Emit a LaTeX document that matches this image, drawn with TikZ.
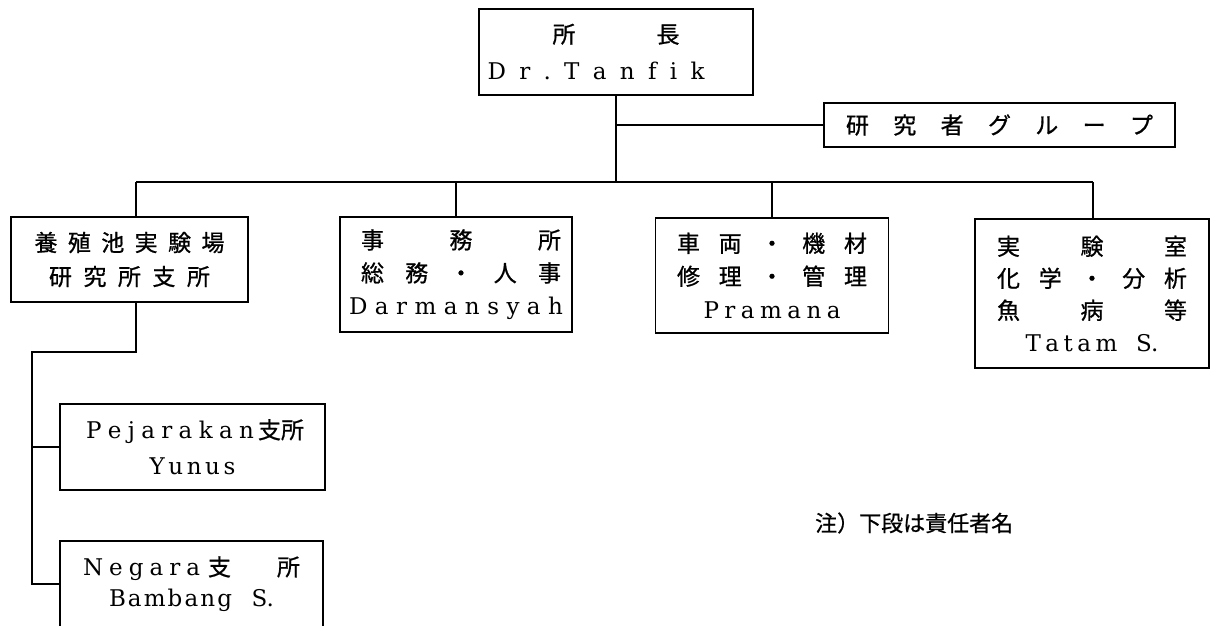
\documentclass[tikz,border=0pt]{standalone}
\usepackage{fontspec}
\setmainfont{DejaVu Serif}
\newfontfamily\jpfam[FakeBold=0.8]{Noto Sans CJK JP}
\newcommand\jp{\jpfam\fontsize{23}{33}\selectfont}
\newcommand\lat{\rmfamily\fontsize{23}{33}\selectfont}
\makeatletter
\let\spr@stop\relax
\def\spr@stopdef{\spr@stop}
\def\spr@A#1{#1\spr@B}
\def\spr@B#1{\def\spr@tmp{#1}\ifx\spr@tmp\spr@stopdef\else\hfil#1\expandafter\spr@B\fi}
\newcommand\spr[2]{\makebox[#1pt][s]{\spr@A#2\spr@stop}}
\makeatother
\tikzset{
  box/.style={draw, line width=1.6pt, rectangle, inner sep=0pt, align=center,
    font=\fontsize{23}{33}\selectfont},
  conn/.style={line width=1.5pt},
}
\begin{document}
\begin{tikzpicture}[x=1pt,y=-1pt]
\useasboundingbox (0,0) rectangle (1210,625);
\clip (0,0) rectangle (1210,625);
% top
\node[box, minimum width=274pt, minimum height=86pt, font=\fontsize{23}{37}\selectfont] (top) at (616,52)
  {{\jp\spr{127}{所長}}\\ \hspace*{-40pt}{\lat\spr{217}{Dr.Tanfik}}};
\node[box, minimum width=351pt, minimum height=44pt] (grp) at (999.5,125)
  {{\jp\spr{307}{研究者グループ}}};
% second level
\node[box, minimum width=237pt, minimum height=85pt, font=\fontsize{23}{34}\selectfont] (b1) at (129.5,259.5)
  {{\jp\spr{190}{養殖池実験場}}\\ {\jp\spr{161}{研究所支所}}};
\node[box, minimum width=232pt, minimum height=115pt] (b2) at (456,274.5)
  {\hspace*{10pt}{\jp\spr{200}{事務所}}\\ \hspace*{10pt}{\jp\spr{200}{総務・人事}}\\ {\lat\spr{214}{Darmansyah}}};
\node[box, minimum width=233pt, minimum height=115pt] (b3) at (772,275.5)
  {{\jp\spr{190}{車両・機材}}\\ {\jp\spr{190}{修理・管理}}\\ {\lat\spr{137}{Pramana}}};
\node[box, minimum width=234pt, minimum height=149pt, font=\fontsize{23}{32}\selectfont] (b4) at (1092,293.5)
  {{\jp\spr{190}{実験室}}\\ {\jp\spr{190}{化学・分析}}\\ {\jp\spr{190}{魚病等}}\\ {\lat\makebox[133pt][s]{\spr{92}{Tatam}\hfil S.}}};
% branch offices
\node[box, minimum width=265pt, minimum height=86pt, font=\fontsize{23}{36}\selectfont] (pej) at (192.5,447)
  {{\lat\makebox[213pt][s]{\spr{168}{Pejarakan}\hspace{4pt}{\jp 支所}}}\\ {\lat\spr{86}{Yunus}}};
\node[box, minimum width=263pt, minimum height=86pt, font=\fontsize{23}{31}\selectfont] (neg) at (191.5,584)
  {{\lat\makebox[217pt][s]{\spr{117}{Negara}\hspace{8pt}{\jp 支}\hfil{\jp 所}}}\\ {\lat\makebox[165pt][s]{\spr{123}{Bambang}\hfil S.}}};
% note
\node[anchor=west, inner sep=0pt, font=\jpfam\fontsize{22}{26}\selectfont] (note) at (815,523) {注）下段は責任者名};
% connectors
\coordinate (busL) at (136,182);
\coordinate (busR) at (1093,182);
\coordinate (k1) at (136,352);
\coordinate (k2) at (32,352);
\draw[conn] (top.south) -- (top.south |- busL);
\draw[conn] (top.south |- grp.west) -- (grp.west);
\draw[conn] (busL) -- (busR);
\draw[conn] (busL) -- (busL |- b1.north);
\draw[conn] (b2.north |- busL) -- (b2.north);
\draw[conn] (b3.north |- busL) -- (b3.north);
\draw[conn] (busR) -- (busR |- b4.north);
\draw[conn] (b1.south -| k1) -- (k1) -- (k2) -- (k2 |- neg.west) -- (neg.west);
\draw[conn] (k2 |- pej.west) -- (pej.west);
\end{tikzpicture}
\end{document}
